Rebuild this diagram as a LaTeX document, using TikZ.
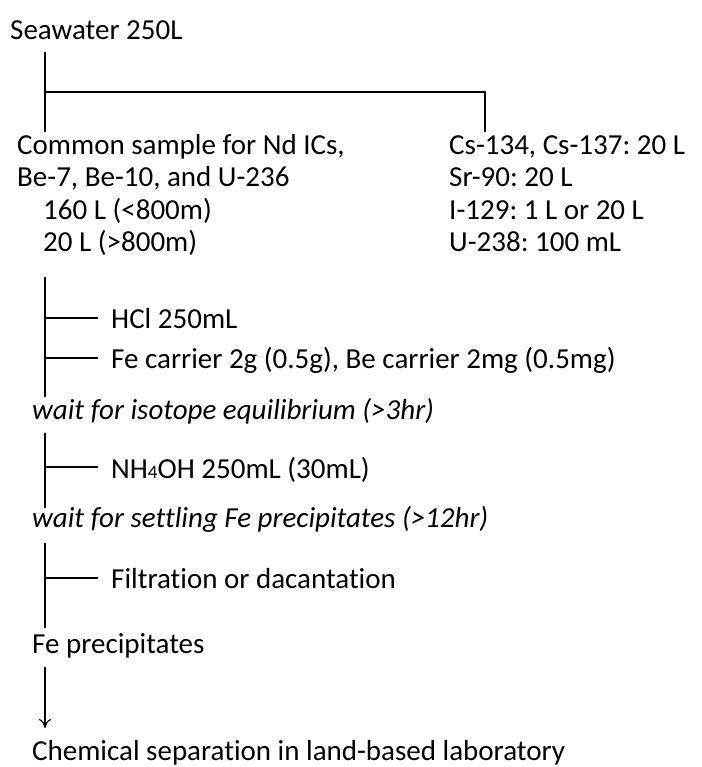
\documentclass[tikz,border=0pt]{standalone}
\usepackage{fontspec}
\setmainfont{Carlito}[Ligatures={NoCommon}]
\usetikzlibrary{positioning,arrows.meta}

\tikzset{
  txt/.style={anchor=base west, inner sep=0pt, font=\fontsize{29pt}{34pt}\selectfont},
  waittxt/.style={txt, font=\fontsize{29pt}{34pt}\selectfont\itshape},
  flow/.style={line width=1.1pt},
}

\begin{document}
\frenchspacing
\begin{tikzpicture}
\useasboundingbox (0,0) rectangle (701pt,-767pt);

\node[txt] (sea) at (10pt,-40pt) {Seawater 250L};
\node[below right=115pt and 7pt of sea.base west, txt] (com) {Common sample for Nd ICs,};
\node[below=32pt of com.base west, txt] (be) {Be-7, Be-10, and U-236};
\node[below right=32pt and 26pt of be.base west, txt] (l160) {160 L (<800m)};
\node[below=32pt of l160.base west, txt] (l20) {20 L (>800m)};
\node[right=432pt of com.base west, txt] (cs) {Cs-134, Cs-137: 20 L};
\node[below=32pt of cs.base west, txt] (sr) {Sr-90: 20 L};
\node[below=32pt of sr.base west, txt] (iod) {I-129: 1 L or 20 L};
\node[below=32pt of iod.base west, txt] (u238) {U-238: 100 mL};
\node[below right=77pt and 68pt of l20.base west, txt] (hcl) {HCl 250mL};
\node[below=40pt of hcl.base west, txt] (fe) {Fe carrier 2g (0.5g), Be carrier 2mg (0.5mg)};
\node[below left=51pt and 79pt of fe.base west, waittxt] (waitA) {wait for isotope equilibrium (>3hr)};
\node[below right=59pt and 79pt of waitA.base west, txt] (nh) {NH{\fontsize{19pt}{19pt}\selectfont 4}OH 250mL (30mL)};
\node[below left=49pt and 79pt of nh.base west, waittxt] (waitB) {wait for settling Fe precipitates (>12hr)};
\node[below right=61pt and 79pt of waitB.base west, txt] (filt) {Filtration or dacantation};
\node[below left=65pt and 79pt of filt.base west, txt] (feppt) {Fe precipitates};
\node[below=107pt of feppt.base west, txt] (chem) {Chemical separation in land-based laboratory};

\coordinate[below right=12pt and 35pt of sea.base west] (s1);
\coordinate[below=40pt of s1] (s2);
\coordinate[below=80pt of s1] (s1b);
\coordinate[right=440pt of s1b] (s3b);
\coordinate[below right=26pt and 2pt of l20.base west] (v2a);
\coordinate[below=120pt of v2a] (v2b);
\coordinate[above left=10pt and 13pt of hcl.base west] (hclin);
\coordinate[above left=10pt and 13pt of fe.base west] (fein);
\coordinate[below right=14pt and 13pt of waitA.base west] (v3a);
\coordinate[below=75pt of v3a] (v3b);
\coordinate[above left=11pt and 13pt of nh.base west] (nhin);
\coordinate[below right=16pt and 13pt of waitB.base west] (v4a);
\coordinate[below=85pt of v4a] (v4b);
\coordinate[above left=10pt and 13pt of filt.base west] (filtin);
\coordinate[below right=14pt and 13pt of feppt.base west] (ar1);
\coordinate[below=61pt of ar1] (ar2);

\draw[flow] (s1) -- (s1b);
\draw[flow] (s2) -| (s3b);
\draw[flow] (v2a) -- (v2b);
\draw[flow] (hclin) -- (hclin -| v2a);
\draw[flow] (fein) -- (fein -| v2a);
\draw[flow] (v3a) -- (v3b);
\draw[flow] (nhin) -- (nhin -| v3a);
\draw[flow] (v4a) -- (v4b);
\draw[flow] (filtin) -- (filtin -| v4a);
\draw[flow, -{To[length=9pt, width=12pt]}] (ar1) -- (ar2);
\end{tikzpicture}
\end{document}
